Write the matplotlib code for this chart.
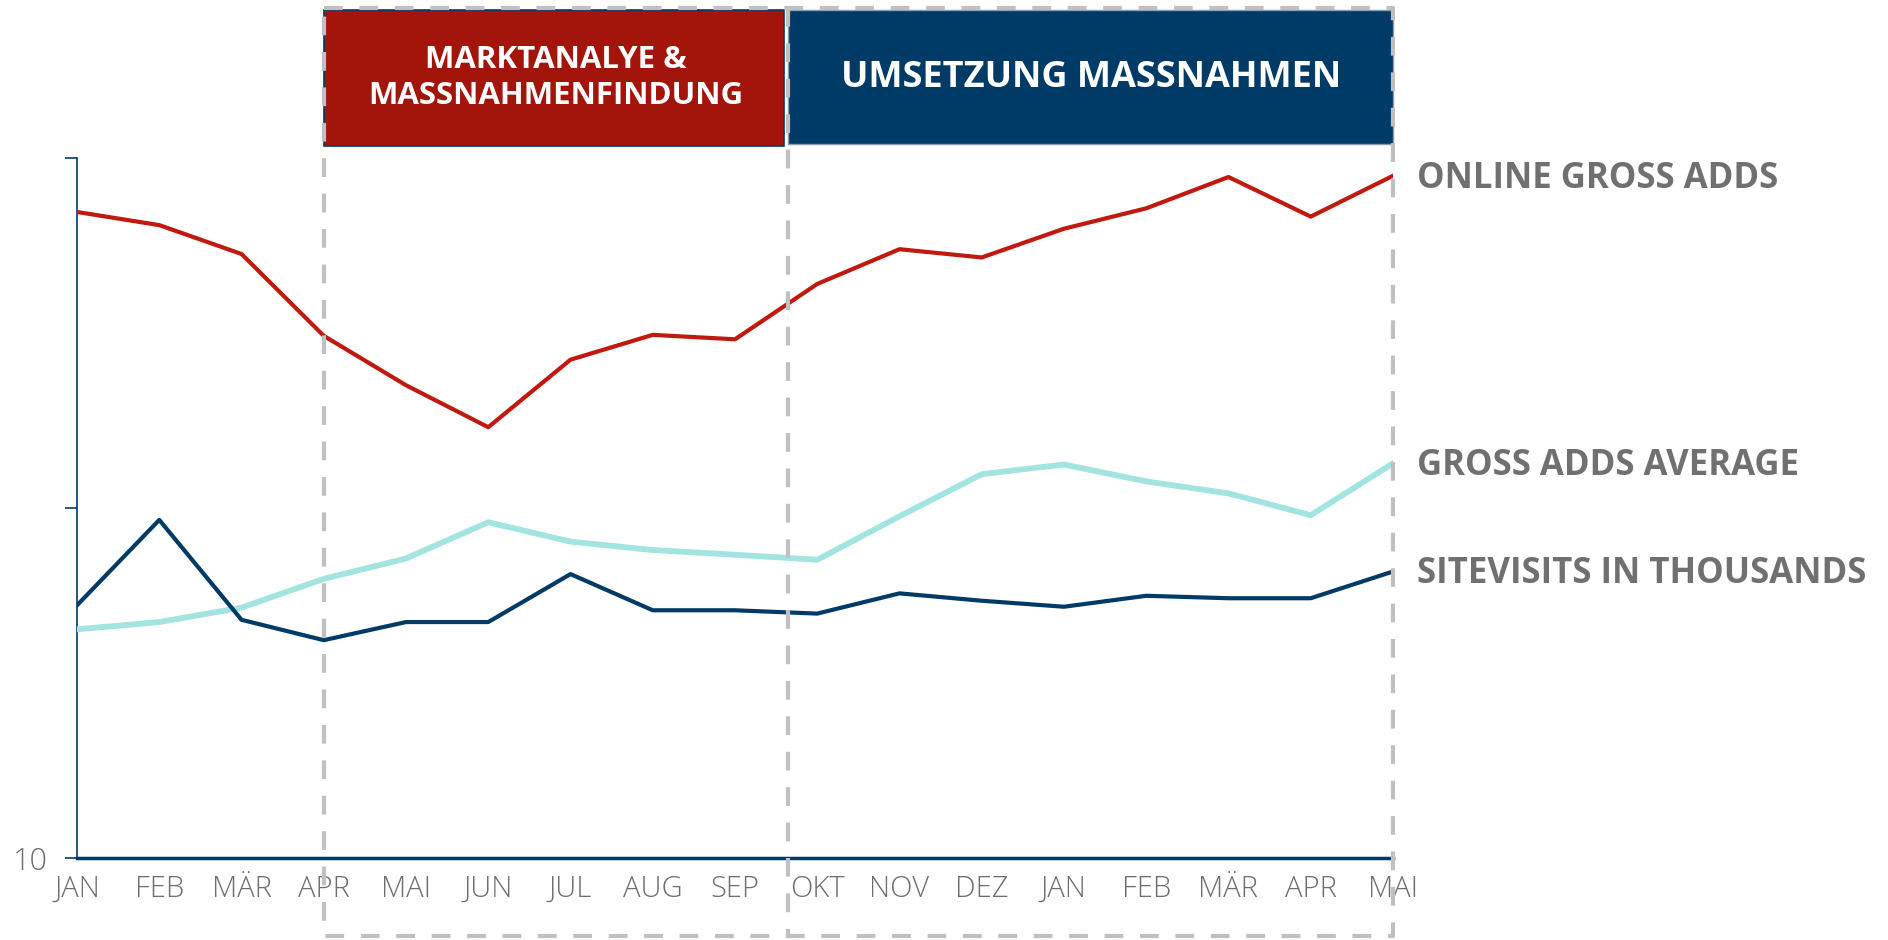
import numpy as np
import matplotlib.pyplot as plt
from matplotlib.patches import Rectangle
import matplotlib.transforms as mtransforms

# Monatsachse
months = ["JAN", "FEB", "MÄR", "APR", "MAI", "JUN", "JUL", "AUG", "SEP",
          "OKT", "NOV", "DEZ", "JAN", "FEB", "MÄR", "APR", "MAI"]

# Werte (log-Skala)
online_gross_adds = [700, 642, 531, 310, 224, 170, 265, 312, 303,
                     436, 548, 519, 627, 717, 881, 679, 888]
gross_adds_average = [45, 47.2, 51.9, 62.7, 71.7, 91, 80.1, 75.8, 73.5,
                      71.1, 94.6, 124.8, 133, 119, 110, 95.3, 134]
sitevisits = [52.7, 92.4, 47.9, 41.9, 47.2, 47.2, 64.7, 51, 51,
              49.9, 57, 54.3, 52.2, 56.1, 55.2, 55.2, 65.8]

series_labels = ["ONLINE GROSS ADDS", "GROSS ADDS AVERAGE", "SITEVISITS IN THOUSANDS"]

# Phasen (in Monatsindex)
phase_start = 3.0
phase_split = 8.65
phase_end = 16.0
phase_titles = ["MARKTANALYE &\nMASSNAHMENFINDUNG", "UMSETZUNG MASSNAHMEN"]

RED = "#c0190f"
RED_BOX = "#a3150a"
NAVY = "#003b68"
TEAL = "#a2e4df"
GREY_DASH = "#c0c0c2"
GREY_TXT = "#707070"

plt.rcParams['font.family'] = ['Open Sans', 'DejaVu Sans']

fig = plt.figure(figsize=(18.88, 9.40), dpi=100)
ax = fig.add_axes([0.0408, 0.0872, 0.697, 0.745])

x = np.arange(len(months))
ax.plot(x, online_gross_adds, color=RED, lw=3, zorder=3)
ax.plot(x, gross_adds_average, color=TEAL, lw=4.2, zorder=3)
ax.plot(x, sitevisits, color=NAVY, lw=3, zorder=4)

ax.set_yscale('log')
ax.set_ylim(10, 1000)
ax.set_xlim(0, 16)
ax.set_yticks([10, 100, 1000])
ax.set_yticklabels(["10", "", ""])
ax.yaxis.set_minor_locator(plt.NullLocator())
ax.set_xticks(x)
ax.set_xticklabels(months)
ax.tick_params(axis='x', length=0, pad=12, labelsize=21, labelcolor="#6e6e6e")
ax.tick_params(axis='y', length=9, width=1.2, color=NAVY, pad=12,
               labelsize=22, labelcolor="#6e6e6e")
for lbl in ax.get_xticklabels() + ax.get_yticklabels():
    lbl.set_fontweight('light')

for s in ["top", "right"]:
    ax.spines[s].set_visible(False)
ax.spines["left"].set_color(NAVY)
ax.spines["left"].set_linewidth(1.2)
ax.spines["bottom"].set_color(NAVY)
ax.spines["bottom"].set_linewidth(2.5)

# Beschriftung am Linienende
for vals, lab in zip([online_gross_adds, gross_adds_average, sitevisits], series_labels):
    ax.annotate(lab, xy=(16, vals[-1]), xytext=(17, -2), textcoords='offset points',
                va='center', ha='left', fontsize=25, fontweight='bold',
                color=GREY_TXT, annotation_clip=False)

# Phasen-Kästen
trans = mtransforms.blended_transform_factory(ax.transData, fig.transFigure)
ax.add_patch(Rectangle((phase_start, 0.845), phase_split - 0.06 - phase_start, 0.144,
                       transform=trans, facecolor=RED_BOX, edgecolor=NAVY, lw=1.2,
                       clip_on=False, zorder=5))
ax.add_patch(Rectangle((phase_split, 0.847), phase_end - phase_split, 0.142,
                       transform=trans, facecolor=NAVY, edgecolor="#8a9aaa", lw=1,
                       clip_on=False, zorder=5))
ax.text((phase_start + phase_split) / 2, 0.917, phase_titles[0], transform=trans,
        ha='center', va='center', color='white', fontsize=22.5, fontweight='bold',
        linespacing=1.25, zorder=6)
ax.text((phase_split + phase_end) / 2, 0.917, phase_titles[1], transform=trans,
        ha='center', va='center', color='white', fontsize=26, fontweight='bold',
        zorder=6)

# gestrichelter Rahmen
dash = dict(color=GREY_DASH, lw=3, linestyle=(0, (4.5, 4)), transform=trans,
            clip_on=False, zorder=7)
ax.plot([phase_start, phase_end, phase_end, phase_start, phase_start],
        [0.991, 0.991, 0.004, 0.004, 0.991], **dash)
ax.plot([phase_split, phase_split], [0.991, 0.004], **dash)

fig.savefig("out.png", dpi=100)
